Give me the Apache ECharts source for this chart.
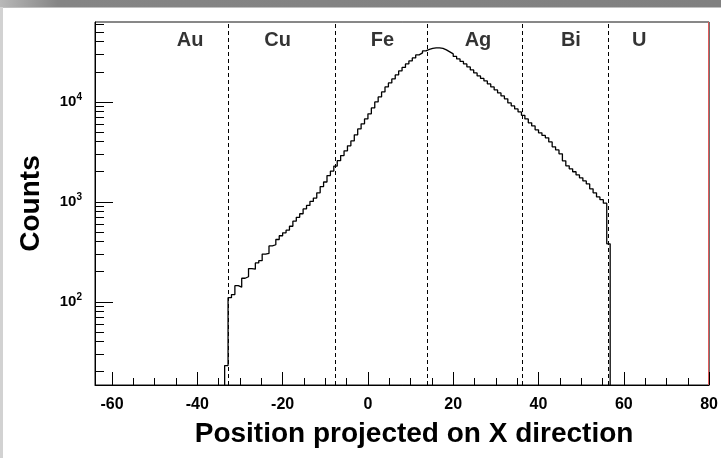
<!DOCTYPE html>
<html><head><meta charset="utf-8">
<script src="https://cdn.jsdelivr.net/npm/echarts@6/dist/echarts.min.js"></script>
<style>html,body{margin:0;padding:0;background:#fff}#c{width:721px;height:458px}</style>
</head><body><div id="c"></div>
<script>
// ---- data ----
const binLow = -33.6;
const binWidth = 0.8;
const counts = [
  23,
  110, 118, 145, 140, 172, 178, 215, 212, 245, 258,
  300, 305, 362, 372, 420, 458, 490, 520, 570, 640,
  700, 760, 850, 920, 1010, 1090, 1230, 1420, 1580, 1830,
  2030, 2280, 2580, 2900, 3240, 3630, 4070, 4680, 5370, 6030,
  6760, 7590, 8710, 10000, 11220, 12590, 14130, 15490, 16980, 18620,
  20420, 22130, 23990, 25700, 27540, 29510, 30900, 32360, 33500, 34280,
  34670, 34670, 34280, 33110, 31620, 30200, 28510, 26920, 25410, 23990,
  22390, 20890, 19500, 18200, 17180, 16220, 15140, 14130, 13180, 12300,
  11480, 10720, 9770, 9120, 8510, 7940, 7330, 6760, 6170, 5750,
  5250, 4900, 4620, 4370, 3980, 3550, 3310, 3020, 2570, 2290,
  2140, 2000, 1860, 1740, 1620, 1510, 1350, 1230, 1120, 1050, 970,
  380
];
const emptyLevel = 1; // empty bins (below the log-axis floor)
const boundaries = [-32.8, -7.6, 14.0, 36.1, 56.4];
const elements = ['Au', 'Cu', 'Fe', 'Ag', 'Bi', 'U'];
const elementX = [-41.7, -21.2, 3.4, 25.8, 47.6, 63.6];
const elementY = 41000;
const xMajorTicks = [-60, -40, -20, 0, 20, 40, 60, 80];
const xMinorTicks = [-55, -50, -45, -35, -30, -25, -15, -10, -5, 5, 10, 15, 25, 30, 35, 45, 50, 55, 65, 70, 75];
const yMajorTicks = [100, 1000, 10000];
const yMinorTicks = [20, 30, 40, 50, 60, 70, 80, 90,
  200, 300, 400, 500, 600, 700, 800, 900,
  2000, 3000, 4000, 5000, 6000, 7000, 8000, 9000,
  20000, 30000, 40000, 50000, 60000];
const xTitle = 'Position projected on X direction';
const yTitle = 'Counts';

// ---- build step outline ----
const outline = [[binLow, emptyLevel]];
counts.forEach((c, i) => {
  const lo = binLow + i * binWidth, hi = lo + binWidth;
  outline.push([lo, c], [hi, c]);
});
outline.push([binLow + counts.length * binWidth, emptyLevel]);

const FONT = '"Liberation Sans", Arial, Helvetica, sans-serif';
const X_MIN = -64, X_MAX = 80, Y_MIN = 14.7, Y_MAX = 63000;

const chart = echarts.init(document.getElementById('c'), null, {renderer: 'canvas'});
chart.setOption({
  animation: false,
  backgroundColor: '#fff',
  textStyle: {fontFamily: FONT},
  graphic: [
    {type: 'rect', shape: {x: 0, y: 0, width: 721, height: 7},
     style: {fill: new echarts.graphic.LinearGradient(0, 0, 1, 0, [
       {offset: 0, color: '#b8b8b8'}, {offset: 0.08, color: '#858585'}, {offset: 1, color: '#808080'}])}},
    {type: 'rect', shape: {x: 0, y: 7, width: 721, height: 1}, style: {fill: '#c0c0c0'}},
    {type: 'rect', shape: {x: 0, y: 7, width: 3, height: 451}, style: {fill: '#d2d2d2'}},
    {type: 'line', shape: {x1: 708.5, y1: 22, x2: 708.5, y2: 385}, style: {stroke: '#e05a5a', lineWidth: 1}}
  ],
  grid: {left: 95, right: 11, top: 22, bottom: 73, show: true, borderColor: '#111', borderWidth: 1, backgroundColor: 'transparent'},
  xAxis: [
    {type: 'value', min: X_MIN, max: X_MAX, position: 'bottom',
     name: xTitle, nameLocation: 'middle', nameGap: 35,
     nameTextStyle: {fontSize: 28, fontWeight: 'bold', color: '#000', fontFamily: FONT, padding: [0, 0, 0, 24]},
     axisLine: {show: true, onZero: false, lineStyle: {color: '#000', width: 1}},
     axisTick: {show: true, inside: true, length: 13, customValues: xMajorTicks, lineStyle: {color: '#000'}},
     axisLabel: {show: true, customValues: xMajorTicks, margin: 12, fontSize: 16, fontWeight: 'bold', color: '#000', fontFamily: FONT},
     splitLine: {show: false}},
    {type: 'value', min: X_MIN, max: X_MAX, position: 'bottom',
     axisLine: {show: false, onZero: false},
     axisTick: {show: true, inside: true, length: 7, customValues: xMinorTicks, lineStyle: {color: '#000'}},
     axisLabel: {show: false}, splitLine: {show: false}}
  ],
  yAxis: [
    {type: 'log', logBase: 10, min: Y_MIN, max: Y_MAX, position: 'left',
     name: yTitle, nameLocation: 'middle', nameGap: 50,
     nameTextStyle: {fontSize: 28, fontWeight: 'bold', color: '#000', fontFamily: FONT},
     axisLine: {show: true, onZero: false, lineStyle: {color: '#000', width: 1}},
     axisTick: {show: true, inside: true, length: 18, customValues: yMajorTicks, lineStyle: {color: '#000'}},
     axisLabel: {show: true, customValues: yMajorTicks, margin: 13, fontWeight: 'bold', fontSize: 15,
       formatter: v => '{b|10}{s|' + Math.round(Math.log10(v)) + '}',
       rich: {b: {fontSize: 15, fontWeight: 'bold', color: '#000', fontFamily: FONT},
              s: {fontSize: 10, fontWeight: 'bold', color: '#000', fontFamily: FONT, padding: [0, 0, 10, 0]}}},
     splitLine: {show: false}},
    {type: 'log', logBase: 10, min: Y_MIN, max: Y_MAX, position: 'left',
     axisLine: {show: false, onZero: false},
     axisTick: {show: true, inside: true, length: 9, customValues: yMinorTicks, lineStyle: {color: '#000'}},
     axisLabel: {show: false}, splitLine: {show: false}}
  ],
  series: [
    {type: 'line', xAxisIndex: 0, yAxisIndex: 0, data: outline, symbol: 'none', clip: true,
     lineStyle: {color: '#000', width: 1.3},
     markLine: {symbol: 'none', silent: true, label: {show: false},
       lineStyle: {color: '#000', type: [4, 3], width: 1},
       data: boundaries.map(b => ({xAxis: b}))}},
    {type: 'scatter', xAxisIndex: 0, yAxisIndex: 0, symbolSize: 0,
     data: elements.map((n, i) => ({name: n, value: [elementX[i], elementY]})),
     label: {show: true, position: 'inside', formatter: '{b}', fontSize: 20, fontWeight: 'bold', color: '#000', fontFamily: FONT}}
  ]
});
</script></body></html>
